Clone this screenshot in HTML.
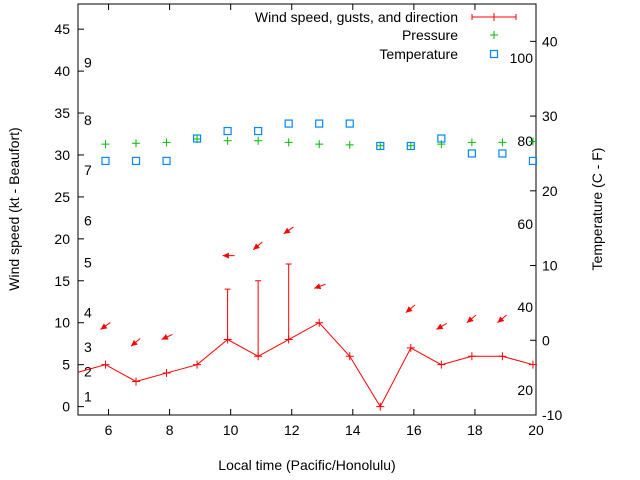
<!DOCTYPE html>
<html><head><meta charset="utf-8"><style>
body{margin:0;background:#fff}
svg{display:block;font-family:"Liberation Sans",sans-serif;font-size:14px}
</style></head><body>
<svg id="c" width="640" height="480"></svg>
<script>
const times=[5.9,6.9,7.9,8.9,9.9,10.9,11.9,12.9,13.9,14.9,15.9,16.9,17.9,18.9,19.9];
const windSpeed=[5,3,4,5,8,6,8,10,6,0,7,5,6,6,5];
const gustTimes=[9.9,10.9,11.9];
const gustValues=[14,15,17];
const pressure=[31.3,31.4,31.5,31.9,31.7,31.7,31.5,31.3,31.2,31.1,31.1,31.3,31.5,31.5,31.6];
const temperature=[24,24,24,27,28,28,29,29,29,26,26,27,25,25,24];
const arrowTimes=[5.9,6.9,7.9,9.9,10.9,11.9,12.9,15.9,16.9,17.9,18.9];
const arrowLevels=[9.2,7.2,8.0,18,18.7,20.6,14.1,11.2,9.2,10.0,10.0];
const arrowDirs=[35,40,25,0,40,35,20,40,30,40,40];
const leftTicks=[0,5,10,15,20,25,30,35,40,45];
const rightTicks=[-10,0,10,20,30,40];
const xTicks=[6,8,10,12,14,16,18,20];
const beaufortLabels=["1","2","3","4","5","6","7","8","9"];
const beaufortLevels=[1.2,4.2,7.1,11.2,17.2,22.2,28.2,34.2,41];
const fahrLabels=["20","40","60","80","100"];
const fahrValues=[20,40,60,80,100];

const L=78,R=536,T=4,B=415;
const X=t=>L+(t-5)/15*(R-L);
const Y=v=>B-(v+1)/49*(B-T);
const Y2=c=>B-(c+10)/55*(B-T);
const svg=document.getElementById('c');
const NS='http://www.w3.org/2000/svg';
function mk(tag,attrs,parent){const e=document.createElementNS(NS,tag);for(const k in attrs)e.setAttribute(k,attrs[k]);(parent||svg).appendChild(e);return e;}
function txt(x,y,s,anchor,name){const e=mk('text',{x:x,y:y,'text-anchor':anchor||'middle',fill:'#000'});e.textContent=s;


return e;}

// frame
const fr=mk('rect',{x:L,y:T,width:R-L,height:B-T,fill:'none',stroke:'#000','stroke-width':1});


leftTicks.forEach(v=>{const y=Y(v);mk('line',{x1:L,y1:y,x2:L+6,y2:y,stroke:'#000'});txt(L-8,y+5,String(v),'end','left-tick-label');});
rightTicks.forEach(v=>{const y=Y2(v);mk('line',{x1:R,y1:y,x2:R-6,y2:y,stroke:'#000'});txt(R+6,y+5,String(v),'start','right-tick-label');});
xTicks.forEach(v=>{const x=X(v);mk('line',{x1:x,y1:B,x2:x,y2:B-6,stroke:'#000'});mk('line',{x1:x,y1:T,x2:x,y2:T+6,stroke:'#000'});txt(x,B+20,String(v),'middle','x-tick-label');});
beaufortLabels.forEach((s,i)=>txt(84,Y(beaufortLevels[i])+5,s,'start','beaufort-label'));
fahrLabels.forEach((s,i)=>txt(533,Y2((fahrValues[i]-32)*5/9)+5,s,'end','fahrenheit-label'));

// axis titles
const yt=txt(0,0,'Wind speed (kt - Beaufort)','middle','y-axis-title');yt.setAttribute('transform','translate(19,209) rotate(-90)');
const yt2=txt(0,0,'Temperature (C - F)','middle','y2-axis-title');yt2.setAttribute('transform','translate(602,209) rotate(-90)');
txt(307,470,'Local time (Pacific/Honolulu)','middle','x-axis-title');

// wind line
let d='M'+L+','+Y(4.1);
times.forEach((t,i)=>{d+=' L'+X(t)+','+Y(windSpeed[i]);});
const wl=mk('path',{d:d,fill:'none',stroke:'#f00','stroke-width':1});


times.forEach((t,i)=>{const x=X(t),y=Y(windSpeed[i]);const g=mk('path',{d:`M${x-4},${y}H${x+4}M${x},${y-4}V${y+4}`,stroke:'#f00'});

});
gustTimes.forEach((t,i)=>{const x=X(t);const ws=windSpeed[times.indexOf(t)];const g=mk('path',{d:`M${x},${Y(ws)}V${Y(gustValues[i])}M${x-3},${Y(gustValues[i])}H${x+3}`,stroke:'#f00'});

});
arrowTimes.forEach((t,i)=>{const x=X(t)-5,y=Y(arrowLevels[i]);const a=arrowDirs[i]*Math.PI/180;
const hx=x,hy=y,tx=x+12*Math.cos(a),ty=y-12*Math.sin(a);
const ang=Math.atan2(ty-hy,tx-hx);
const p1x=hx+7*Math.cos(ang+0.45),p1y=hy+7*Math.sin(ang+0.45),p2x=hx+7*Math.cos(ang-0.45),p2y=hy+7*Math.sin(ang-0.45);
const g=mk('g',{});


mk('line',{x1:hx,y1:hy,x2:tx,y2:ty,stroke:'#f00'},g);
mk('polygon',{points:`${hx},${hy} ${p1x},${p1y} ${p2x},${p2y}`,fill:'#f00'},g);});

// pressure
times.forEach((t,i)=>{const x=X(t),y=Y(pressure[i]);const g=mk('path',{d:`M${x-4},${y}H${x+4}M${x},${y-4}V${y+4}`,stroke:'#0b0'});

});
// temperature
times.forEach((t,i)=>{const x=X(t),y=Y2(temperature[i]);const g=mk('rect',{x:x-3.5,y:y-3.5,width:7,height:7,fill:'none',stroke:'#08f','stroke-width':1.2});

});

// legend
txt(458,22,'Wind speed, gusts, and direction','end','legend-wind');
mk('path',{d:'M472,17H516M472,14V20M516,14V20M494,13V21',stroke:'#f00'});
txt(458,40,'Pressure','end','legend-pressure');
mk('path',{d:'M490,35H498M494,31V39',stroke:'#0b0'});
txt(458,59,'Temperature','end','legend-temperature');
mk('rect',{x:490.5,y:50.5,width:7,height:7,fill:'none',stroke:'#08f','stroke-width':1.2});
</script>
</body></html>
